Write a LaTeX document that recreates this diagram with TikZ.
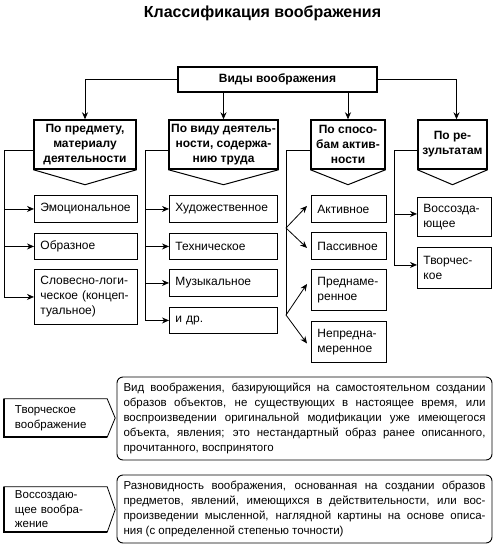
\documentclass[tikz,border=0pt]{standalone}
\usepackage{fontspec}
\setmainfont{Liberation Sans}
\usetikzlibrary{arrows.meta, positioning, calc}
\tikzset{
  topbox/.style={rectangle, draw, line width=1.4pt, minimum width=199pt, minimum height=25pt,
              font=\bfseries\fontsize{12}{15}\selectfont},
  headbox/.style={rectangle, draw, line width=1.4pt, minimum height=49pt, inner sep=2pt,
              font=\bfseries\fontsize{12}{15}\selectfont, align=center},
  itembox/.style={rectangle, draw, line width=0.9pt, anchor=north west, inner xsep=6pt,
              text width=#1, font=\fontsize{12}{15}\selectfont, align=left},
  labelbox/.style={rectangle, minimum width=103pt, inner xsep=11pt, text width=81pt,
              font=\fontsize{11.5}{14.5}\selectfont, align=left},
  defbox/.style={rectangle, rounded corners=6pt, draw, line width=0.9pt, minimum width=375pt,
              inner xsep=6.5pt, text width=362pt, font=\fontsize{11.5}{15}\selectfont, align=justify},
  line/.style={line width=0.8pt},
  arr/.style={-{Stealth[length=7pt, width=6pt]}, line width=0.8pt},
}

\begin{document}
\begin{tikzpicture}[x=1pt, y=-1pt]
  \useasboundingbox (0,0) rectangle (499,550);
  \node[font=\bfseries\fontsize{16}{18}\selectfont] (title) at (262.5,13) {Классификация воображения};

  % top of the tree
  \node[topbox] (top) at (277.5,79.5) {Виды воображения};
  \node[headbox, minimum width=102pt] (c1) at (85,144.5) {По предмету,\\материалу\\деятельности};
  \node[headbox, minimum width=109pt] (c2) at (223.5,144.5) {По виду деятель-\\ности, содержа-\\нию труда};
  \node[headbox, minimum width=74pt] (c3) at (348,144.5) {По спосо-\\бам актив-\\ности};
  \node[headbox, minimum width=69pt] (c4) at (452.5,144.5) {По ре-\\зультатам};
  \foreach \c in {c1,c2,c3,c4}
    \draw[line width=1pt] (\c.south west) -- ([yshift=-15pt]\c.south) -- (\c.south east);

  \draw[arr] (top.west) -| (c1.north);
  \draw[arr] (top.east) -| ([xshift=4pt]c4.north);
  \draw[arr] (top.south -| c2.north) -- (c2.north);
  \draw[arr] (top.south -| c3.north) -- (c3.north);

  % items
  \node[itembox=91pt, minimum height=27pt] (e1) at (34,195) {Эмоциональное};
  \node[itembox=91pt, minimum height=26pt] (e2) at (34,233) {Образное};
  \node[itembox=91pt, minimum height=55pt] (e3) at (34,269) {Словесно-логи-\\ческое (концеп-\\туальное)};
  \node[itembox=96pt, minimum height=27pt] (w1) at (169,195) {Художественное};
  \node[itembox=96pt, minimum height=26pt] (w2) at (169,233) {Техническое};
  \node[itembox=96pt, minimum height=27pt] (w3) at (169,269) {Музыкальное};
  \node[itembox=96pt, minimum height=26pt] (w4) at (169,307) {и др.};
  \node[itembox=63pt, minimum height=27pt] (a1) at (311,195) {Активное};
  \node[itembox=63pt, minimum height=27pt] (a2) at (311,232) {Пассивное};
  \node[itembox=63pt, minimum height=41pt] (a3) at (311,269) {Преднаме-\\ренное};
  \node[itembox=63pt, minimum height=41pt] (a4) at (311,321) {Непредна-\\меренное};
  \node[itembox=62pt, minimum height=39pt] (r1) at (417,197) {Воссозда-\\ющее};
  \node[itembox=62pt, minimum height=41pt] (r2) at (417,247) {Творчес-\\кое};

  % branches
  \coordinate (t1) at (4,150);
  \coordinate (t2) at (145,150);
  \coordinate (t3) at (286,150);
  \coordinate (t4) at (394,150);
  \coordinate (f1) at (286,228);
  \coordinate (f2) at (286,315);
  \draw[line] (c1.west |- t1) -- (t1);
  \draw[line] (c2.west |- t2) -- (t2);
  \draw[line] (c3.west |- t3) -- (t3) -- (f2);
  \draw[line] (c4.west |- t4) -- (t4);
  \foreach \e in {e1,e2,e3}
    \draw[arr] (t1) |- (\e.west);
  \foreach \w in {w1,w2,w3,w4}
    \draw[arr] (t2) |- (\w.west);
  \foreach \r in {r1,r2}
    \draw[arr] (t4) |- ([yshift=3pt]\r.west);
  \draw[arr] (f1) -- ([xshift=-4pt, yshift=3pt]a1.west);
  \draw[arr] (f1) -- ([xshift=-4pt, yshift=-2pt]a2.west);
  \draw[arr] (f2) -- ([xshift=-4pt, yshift=6pt]a3.west);
  \draw[arr] (f2) -- ([xshift=-4pt, yshift=-1.5pt]a4.west);

  % definitions
  \node[labelbox, minimum height=38pt] (l1) at (55.5,418) {Творческое\\воображение};
  \node[labelbox, minimum height=45pt] (l2) at (55.5,509.5) {Воссоздаю-\\щее вообра-\\жение};
  \foreach \l in {l1,l2} {
    \draw[line width=0.8pt] (\l.north west) -- (\l.north east) -- ([xshift=8pt]\l.east)
      -- (\l.south east) -- (\l.south west) -- cycle;
    \draw[line width=1.8pt] (\l.north west) -- (\l.south west) -- (\l.south east);
  }
  \node[defbox, minimum height=83pt] (d1) at (304.5,418.5) {Вид воображения, базирующийся на самостоятельном создании\linebreak
    образов объектов, не существующих в настоящее время, или\linebreak
    воспроизведении оригинальной модификации уже имеющегося\linebreak
    объекта, явления; это нестандартный образ ранее описанного,\linebreak
    прочитанного, воспринятого};
  \node[defbox, minimum height=68pt] (d2) at (304.5,509) {Разновидность воображения, основанная на создании образов\linebreak
    предметов, явлений, имеющихся в действительности, или вос-\linebreak
    произведении мысленной, наглядной картины на основе описа-\linebreak
    ния (с определенной степенью точности)};
\end{tikzpicture}
\end{document}
